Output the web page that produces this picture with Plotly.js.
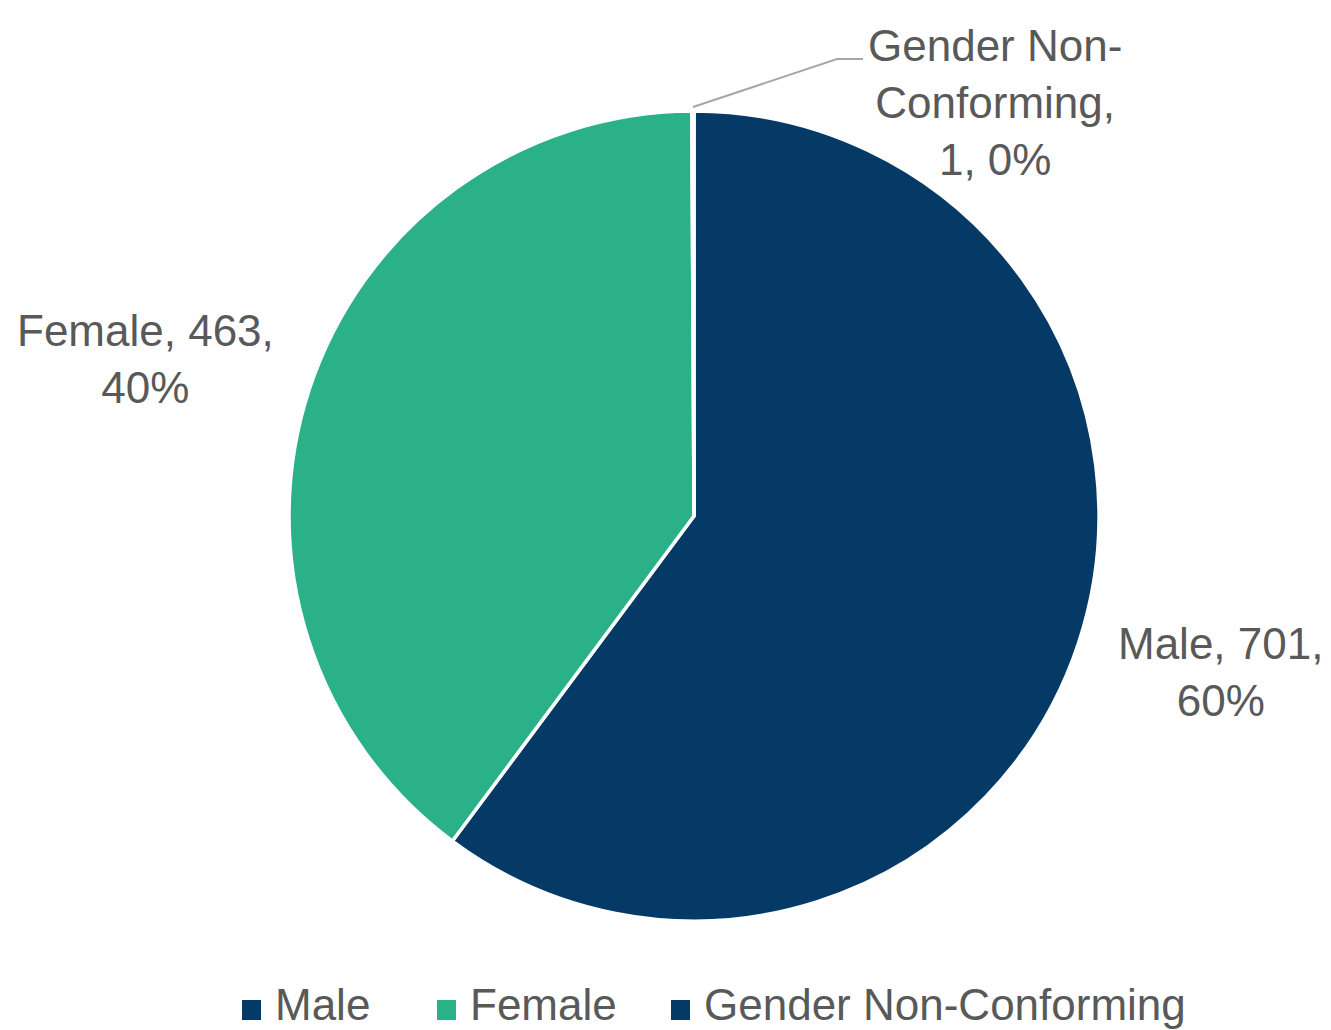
<!DOCTYPE html>
<html>
<head>
<meta charset="utf-8">
<script src="https://cdn.plot.ly/plotly-3.0.1.min.js"></script>
<style>html,body{margin:0;padding:0;background:#fff;}#chart{width:1331px;height:1030px;}</style>
</head>
<body>
<div id="chart"></div>
<script>
const categories = ["Male", "Female", "Gender Non-Conforming"];
const counts = [701, 463, 1];
const sliceColors = ["#063A66", "#2BB188", "#063A66"];
const labelLines = ["Male, 701,<br>60%", "Female, 463,<br>40%", "Gender Non-<br>Conforming,<br>1, 0%"];

const W = 1331, H = 1030;
const px = x => x / W;
const py = y => 1 - y / H;

const cx = 694, cy = 516, r = 405;

const trace = {
  type: "pie",
  labels: categories,
  values: counts,
  sort: false,
  direction: "clockwise",
  rotation: 0,
  textinfo: "none",
  hoverinfo: "label+value+percent",
  marker: { colors: sliceColors, line: { color: "#ffffff", width: 3.5 } },
  domain: { x: [px(cx - r), px(cx + r)], y: [py(cy + r), py(cy - r)] },
  showlegend: false
};

const fontFam = "Liberation Sans, Arial, sans-serif";
const textColor = "#595959";

const labelPos = [
  { x: 1220, y: 672 },
  { x: 145, y: 359 },
  { x: 995, y: 103 }
];

const annotations = labelLines.map((t, i) => ({
  text: t,
  x: px(labelPos[i].x), y: py(labelPos[i].y),
  xref: "paper", yref: "paper",
  xanchor: "center", yanchor: "middle",
  showarrow: false,
  align: "center",
  font: { family: fontFam, size: 44, color: textColor }
}));

// legend (drawn manually to match the original spacing)
const legendSquareX = [242, 437, 671];
const legendY = 1004;
const shapes = [{
  type: "path",
  xref: "paper", yref: "paper",
  path: `M ${px(693)} ${py(107)} L ${px(837)} ${py(59)} L ${px(863)} ${py(59)}`,
  line: { color: "#A6A6A6", width: 2 }
}];
categories.forEach((c, i) => {
  shapes.push({
    type: "rect", xref: "paper", yref: "paper",
    x0: px(legendSquareX[i]), x1: px(legendSquareX[i] + 19),
    y0: py(1020), y1: py(1000),
    fillcolor: sliceColors[i], line: { width: 0 }
  });
  annotations.push({
    text: c,
    x: px(legendSquareX[i] + 31), y: py(legendY),
    xref: "paper", yref: "paper",
    xanchor: "left", yanchor: "middle",
    showarrow: false,
    font: { family: fontFam, size: 44, color: textColor }
  });
});

const layout = {
  width: W, height: H,
  margin: { l: 0, r: 0, t: 0, b: 0 },
  paper_bgcolor: "#ffffff",
  font: { family: fontFam, size: 44, color: textColor },
  showlegend: false,
  annotations: annotations,
  shapes: shapes
};

Plotly.newPlot("chart", [trace], layout, { displayModeBar: false, staticPlot: true });
</script>
</body>
</html>
